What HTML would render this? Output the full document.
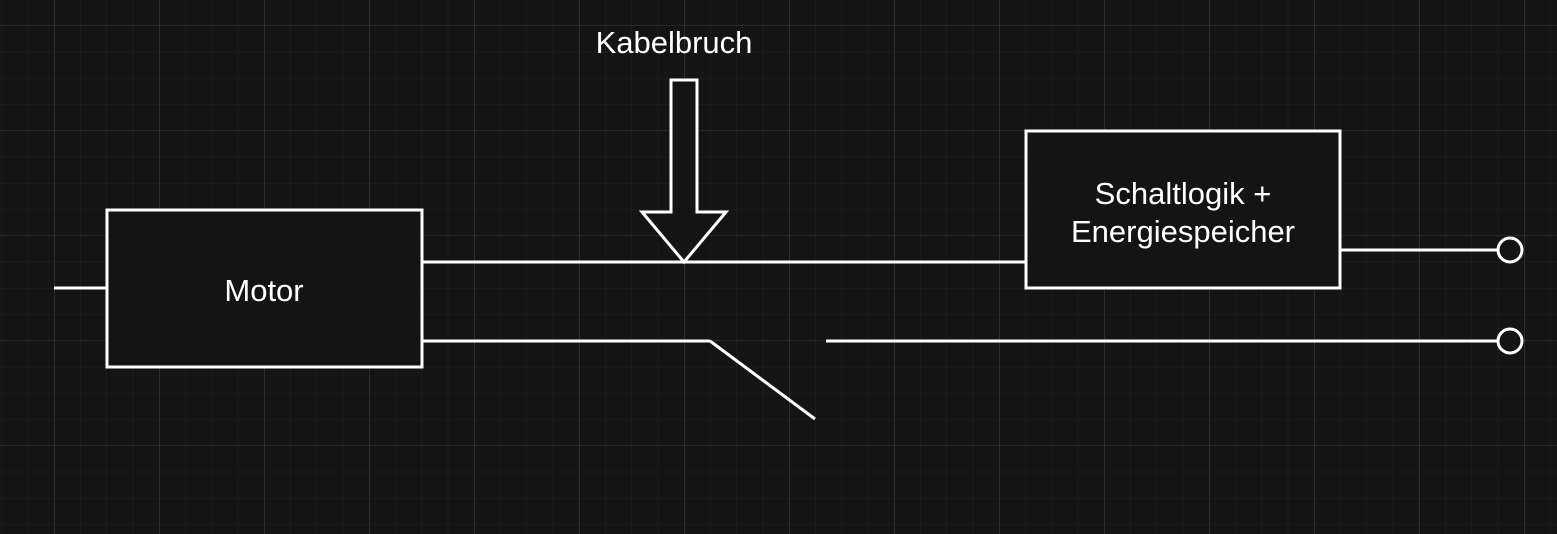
<!DOCTYPE html>
<html><head><meta charset="utf-8"><style>
html,body{margin:0;padding:0;background:#141414;}
svg{display:block}
text{font-family:"Liberation Sans",sans-serif;font-size:31px;fill:#fff}
</style></head><body>
<svg width="1557" height="534" viewBox="0 0 1557 534" xmlns="http://www.w3.org/2000/svg">
<defs>
<pattern id="minor" x="1.5" y="25.5" width="26.25" height="26.25" patternUnits="userSpaceOnUse">
<path d="M0 0H26.25M0 0V26.25" stroke="#222" stroke-width="1" fill="none"/>
</pattern>
<pattern id="major" x="54.5" y="25.5" width="105" height="105" patternUnits="userSpaceOnUse">
<path d="M0 0H105M0 0V105" stroke="#3a3a3a" stroke-width="1" fill="none"/>
</pattern>
</defs>
<rect width="1557" height="534" fill="#141414"/>
<rect width="1557" height="534" fill="url(#minor)"/>
<rect width="1557" height="534" fill="url(#major)"/>
<g stroke="#fff" stroke-width="3" fill="none">
<line x1="54" y1="288" x2="107" y2="288"/>
<rect x="107" y="210" width="315" height="157" fill="#141414"/>
<line x1="422" y1="262" x2="1026" y2="262"/>
<rect x="1026" y="131" width="314" height="157" fill="#141414"/>
<line x1="1340" y1="250" x2="1498" y2="250"/>
<circle cx="1510" cy="250" r="12" fill="#141414"/>
<line x1="422" y1="341" x2="710" y2="341"/>
<line x1="710" y1="341" x2="815" y2="419"/>
<line x1="826" y1="341" x2="1498" y2="341"/>
<circle cx="1510" cy="341" r="12" fill="#141414"/>
<path d="M671 80H697V212H726L684 262L642 212H671Z" fill="#141414" stroke-linejoin="miter"/>
</g>
<text x="264" y="301" text-anchor="middle">Motor</text>
<text x="1183" y="204" text-anchor="middle">Schaltlogik +</text>
<text x="1183" y="242" text-anchor="middle">Energiespeicher</text>
<text x="674" y="53" text-anchor="middle">Kabelbruch</text>
</svg>
</body></html>
